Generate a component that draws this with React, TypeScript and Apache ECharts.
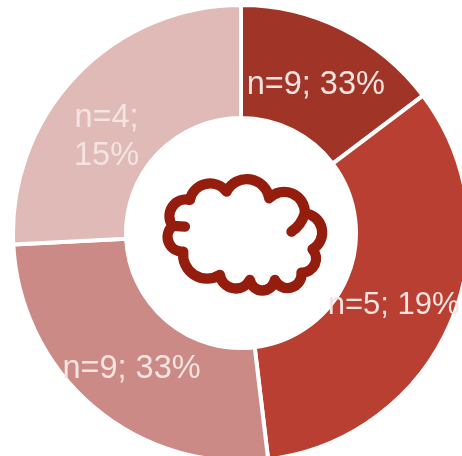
import React, { useEffect, useRef } from "react";
import * as echarts from "echarts";

const sliceSizes = [14.7, 33.4, 26.1, 25.8];
const sliceLabels = ["n=9; 33%", "n=5; 19%", "n=9; 33%", "n=4;\n15%"];
const sliceColors = ["#A03527", "#B83F31", "#CB8A85", "#E0BAB7"];
const labelOffsets = [[-3, 6], [-8, 2], [3, 1], [-8, 22]];
const labelSizes = [32.5, 31, 32.5, 32.5];

const cloudPath =
  "M485 245 Q515 225 525 190 A58 58 0 0 1 548 298 A42 42 0 0 1 515 368 A42 42 0 0 1 435 390 A38 38 0 0 1 360 390 A48 48 0 0 1 270 375 A72 72 0 0 1 160 305 A44 44 0 0 1 128 228 L165 230 L128 228 A50 50 0 0 1 180 150 A62 62 0 0 1 290 125 A68 68 0 0 1 418 145 A62 62 0 0 1 525 190";

echarts.graphic.registerShape("cloud", echarts.graphic.extendPath(cloudPath, {}));

export default function App() {
  const ref = useRef<HTMLDivElement>(null);
  useEffect(() => {
    document.body.style.margin = "0";
    const chart = echarts.init(ref.current!, undefined, { renderer: "svg" });
    chart.setOption({
      animation: false,
      series: [
        {
          type: "pie",
          center: [241, 233],
          radius: [115, 228],
          startAngle: 90,
          clockwise: true,
          silent: true,
          data: sliceSizes.map((value, i) => ({
            value,
            name: sliceLabels[i],
            itemStyle: { color: sliceColors[i] },
            label: { offset: labelOffsets[i], fontSize: labelSizes[i] },
          })),
          itemStyle: { borderColor: "#ffffff", borderWidth: 4 },
          label: {
            show: true,
            position: "inside",
            formatter: "{b}",
            color: "#F3E3E1",
            fontFamily: "Liberation Sans",
            lineHeight: 38,
            align: "center",
          },
          labelLine: { show: false },
        },
      ],
      graphic: [
        {
          type: "cloud",
          x: 130,
          y: 150,
          scaleX: 1 / 3,
          scaleY: 1 / 3,
          z: 10,
          style: { fill: "none", stroke: "#951D0E", lineWidth: 31, lineJoin: "round", lineCap: "round" },
        },
      ],
    });
    return () => chart.dispose();
  }, []);
  return <div ref={ref} style={{ width: 462, height: 456, filter: "blur(0.5px)" }} />;
}
